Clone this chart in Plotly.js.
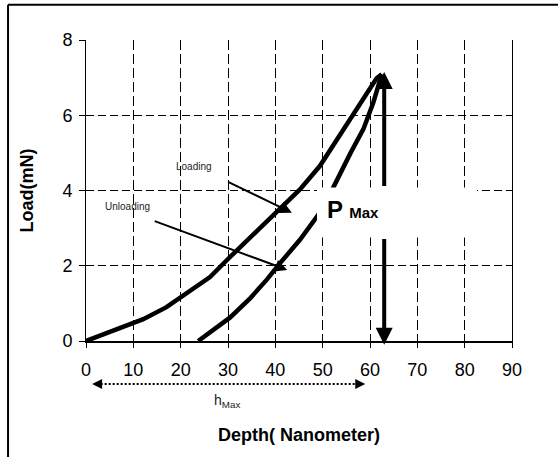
<!DOCTYPE html>
<html>
<head>
<meta charset="utf-8">
<script src="https://cdn.plot.ly/plotly-3.0.1.min.js"></script>
<style>
  html, body { margin: 0; padding: 0; background: #fff; }
  #chart { width: 558px; height: 457px; }
</style>
</head>
<body>
<div id="chart"></div>
<script>
// ---- data ----
const loadingDepth   = [0, 12.1, 17.0, 20.9, 26.2, 30.0, 36.4, 41.7, 45.2, 49.4, 54.4, 58.6, 61.4, 62.5];
const loadingLoad    = [0, 0.58, 0.90, 1.24, 1.70, 2.18, 2.95, 3.58, 4.03, 4.65, 5.63, 6.47, 6.98, 7.09];
const unloadingDepth = [23.7, 30.4, 34.5, 38.2, 41.0, 45.2, 49.1, 52.2, 55.9, 58.6, 60.7, 62.5];
const unloadingLoad  = [0, 0.62, 1.11, 1.63, 2.07, 2.69, 3.36, 4.07, 5.00, 5.63, 6.34, 7.09];

const xTickVals = [0, 10, 20, 30, 40, 50, 60, 70, 80, 90];
const yTickVals = [0, 2, 4, 6, 8];

// annotation anchors (data units)
const pMaxDepth = 63.0;
const pMaxTop = 7.15, pMaxBottom = -0.1;
const loadingArrow   = {tailX: 29.8, tailY: 4.24, headX: 43.5, headY: 3.41};
const unloadingArrow = {tailX: 14.2, tailY: 3.20, headX: 42.5, headY: 1.89};
const hMaxRange = [1.3, 59.0];

const FONT = 'Arial, "Liberation Sans", sans-serif';

const traces = [
  {x: loadingDepth, y: loadingLoad, mode: 'lines', type: 'scatter',
   line: {color: '#000', width: 4.5}, hoverinfo: 'skip', name: 'Loading'},
  {x: unloadingDepth, y: unloadingLoad, mode: 'lines', type: 'scatter',
   line: {color: '#000', width: 4.5}, hoverinfo: 'skip', name: 'Unloading'}
];

const hMaxY = -0.143; // paper units below the plot

const layout = {
  width: 558, height: 457,
  margin: {l: 86, r: 46, t: 40, b: 116, pad: 0},
  paper_bgcolor: '#fff', plot_bgcolor: '#fff',
  showlegend: false,
  font: {family: FONT, color: '#000'},
  xaxis: {
    range: [0, 90], tickvals: xTickVals, ticktext: xTickVals.map(String),
    showgrid: true, gridcolor: '#000', gridwidth: 1, griddash: '10px,4px',
    zeroline: false, showline: true, linecolor: '#000', linewidth: 2,
    ticks: 'outside', ticklen: 5, tickwidth: 1, tickcolor: '#000',
    tickfont: {size: 18, family: FONT, color: '#000'},
    ticklabelstandoff: 6,
    fixedrange: true,
    title: {text: 'Depth( Nanometer)', font: {size: 18, family: FONT, color: '#000', weight: 'bold'}, standoff: 50}
  },
  yaxis: {
    range: [0, 8], tickvals: yTickVals, ticktext: yTickVals.map(String),
    showgrid: true, gridcolor: '#000', gridwidth: 1, griddash: '8px,4px',
    zeroline: false, showline: true, mirror: true, linecolor: '#000', linewidth: 1,
    ticks: 'outside', ticklen: 6, tickwidth: 1, tickcolor: '#000',
    tickfont: {size: 18, family: FONT, color: '#000'},
    ticklabelstandoff: 3,
    fixedrange: true,
    title: {text: 'Load(mN)', font: {size: 18, family: FONT, color: '#000', weight: 'bold'}, standoff: 24}
  },
  shapes: [
    // white box behind the P Max label
    {type: 'rect', xref: 'x', yref: 'y', x0: 48.8, x1: 82.6, y0: 2.75, y1: 4.08,
     fillcolor: '#fff', line: {width: 0}, layer: 'above'},
    // dotted h_max line
    {type: 'line', xref: 'x', yref: 'paper', x0: hMaxRange[0] + 1.8, x1: hMaxRange[1] - 1.8, y0: hMaxY, y1: hMaxY,
     line: {color: '#000', width: 2, dash: '2px,2px'}},
    // outer frame (top and left edges)
    {type: 'line', xref: 'paper', yref: 'paper', x0: -0.183, x1: 1.12, y0: 1.117, y1: 1.117,
     line: {color: '#000', width: 2}},
    {type: 'line', xref: 'paper', yref: 'paper', x0: -0.183, x1: -0.183, y0: 1.117, y1: -0.4,
     line: {color: '#000', width: 2}}
  ],
  annotations: [
    // P max vertical arrows
    {x: pMaxDepth, y: pMaxTop, ax: pMaxDepth, ay: 4.08, axref: 'x', ayref: 'y', xref: 'x', yref: 'y',
     text: '', showarrow: true, arrowhead: 2, arrowwidth: 4, arrowsize: 0.85, arrowcolor: '#000', standoff: 0},
    {x: pMaxDepth, y: pMaxBottom, ax: pMaxDepth, ay: 2.75, axref: 'x', ayref: 'y', xref: 'x', yref: 'y',
     text: '', showarrow: true, arrowhead: 2, arrowwidth: 4, arrowsize: 0.85, arrowcolor: '#000', standoff: 0},
    {x: 50.5, y: 3.5, xref: 'x', yref: 'y', xanchor: 'left', yanchor: 'middle', showarrow: false,
     text: "P <span style='font-size:15px'>Max</span>",
     font: {size: 24, family: FONT, color: '#000', weight: 'bold'}},
    // Loading / Unloading arrows
    {x: loadingArrow.headX, y: loadingArrow.headY, ax: loadingArrow.tailX, ay: loadingArrow.tailY,
     axref: 'x', ayref: 'y', xref: 'x', yref: 'y', text: '', showarrow: true,
     arrowhead: 2, arrowwidth: 2, arrowsize: 1.2, arrowcolor: '#000', standoff: 0},
    {x: unloadingArrow.headX, y: unloadingArrow.headY, ax: unloadingArrow.tailX, ay: unloadingArrow.tailY,
     axref: 'x', ayref: 'y', xref: 'x', yref: 'y', text: '', showarrow: true,
     arrowhead: 2, arrowwidth: 2, arrowsize: 1.2, arrowcolor: '#000', standoff: 0},
    {x: 22.8, y: 4.64, xref: 'x', yref: 'y', showarrow: false, text: 'Loading',
     font: {size: 10, family: FONT, color: '#222'}},
    {x: 8.7, y: 3.57, xref: 'x', yref: 'y', showarrow: false, text: 'Unloading',
     font: {size: 10, family: FONT, color: '#222'}},
    // h max arrowheads and label
    {x: hMaxRange[0], y: hMaxY, xref: 'x', yref: 'paper', ax: 10, ay: 0, text: '', showarrow: true,
     arrowhead: 2, arrowwidth: 2, arrowsize: 1, arrowcolor: '#000', standoff: 0},
    {x: hMaxRange[1], y: hMaxY, xref: 'x', yref: 'paper', ax: -10, ay: 0, text: '', showarrow: true,
     arrowhead: 2, arrowwidth: 2, arrowsize: 1, arrowcolor: '#000', standoff: 0},
    {x: 29.8, y: -0.235, xref: 'x', yref: 'paper', showarrow: false,
     text: 'h<sub>Max</sub>', font: {size: 14, family: FONT, color: '#222'}}
  ]
};

Plotly.newPlot('chart', traces, layout, {displayModeBar: false, staticPlot: true});
</script>
</body>
</html>
